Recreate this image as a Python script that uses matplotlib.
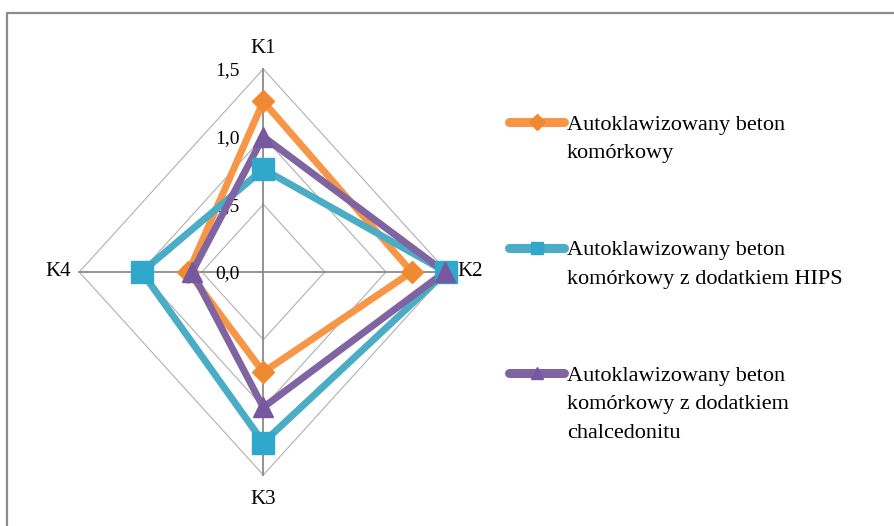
import matplotlib
matplotlib.use('Agg')
import matplotlib.pyplot as plt
from matplotlib.lines import Line2D

plt.rcParams['font.family'] = ['Liberation Serif', 'DejaVu Serif']

# dane wykresu
axis_labels = ['K1', 'K2', 'K3', 'K4']
tick_values = [0.0, 0.5, 1.0, 1.5]
tick_labels = ['0,0', '0,5', '1,0', '1,5']

beton = [1.26, 1.21, 0.74, 0.61]
beton_hips = [0.76, 1.49, 1.26, 0.99]
beton_chalcedonit = [1.00, 1.48, 1.00, 0.58]

series_names = [
    'Autoklawizowany beton\nkomórkowy',
    'Autoklawizowany beton\nkomórkowy z dodatkiem HIPS',
    'Autoklawizowany beton\nkomórkowy z dodatkiem\nchalcedonitu',
]
series_values = [beton, beton_hips, beton_chalcedonit]
colors = ['#F79646', '#4BACC6', '#8064A2']
marker_colors = ['#F08A32', '#2FA8CB', '#7657A0']
markers = ['D', 's', '^']
marker_sizes = [11, 16, 14]

# kierunki osi: K1 gora, K2 prawo, K3 dol, K4 lewo
dirs = [(0, 1), (1, 0), (0, -1), (-1, 0)]


def to_xy(vals):
    xs = [v * d[0] for v, d in zip(vals, dirs)]
    ys = [v * d[1] for v, d in zip(vals, dirs)]
    return xs + xs[:1], ys + ys[:1]


W, H = 894, 526
fig = plt.figure(figsize=(W / 100, H / 100), dpi=100)
fig.patch.set_facecolor('white')

# ramka (widoczna tylko gora i lewa krawedz)
fig.add_artist(Line2D([7 / W, 7 / W, 1.0], [0.0, 1 - 13 / H, 1 - 13 / H],
                      color='#8c8c8c', lw=1.6))

ax = fig.add_axes([79.3 / W, (H - 475) / H, 368 / W, 406 / H])
rmax = tick_values[-1]
ax.set_xlim(-rmax, rmax)
ax.set_ylim(-rmax, rmax)
ax.axis('off')

# siatka
for r in tick_values[1:]:
    gx, gy = to_xy([r] * 4)
    ax.plot(gx, gy, color='#b0b0b0', lw=0.8, zorder=1, clip_on=False)
for dx, dy in dirs:
    ax.plot([0, dx * rmax], [0, dy * rmax], color='#8a8a8a', lw=1.3, zorder=1, clip_on=False)

# etykiety skali
for v, lab in zip(tick_values, tick_labels):
    ax.text(-0.19, v - 0.015, lab, ha='right', va='center', fontsize=14, zorder=2)

# etykiety osi
ax.text(0, rmax + 0.155, axis_labels[0], ha='center', va='center', fontsize=15)
ax.text(rmax + 0.08, 0, axis_labels[1], ha='left', va='center', fontsize=15)
ax.text(0, -rmax - 0.18, axis_labels[2], ha='center', va='center', fontsize=15)
ax.text(-rmax - 0.07, 0, axis_labels[3], ha='right', va='center', fontsize=15)

# serie
for vals, c, mc, m, ms in zip(series_values, colors, marker_colors, markers, marker_sizes):
    xs, ys = to_xy(vals)
    ax.plot(xs, ys, color=c, lw=5, zorder=3, clip_on=False, solid_joinstyle='miter')
    ax.plot(xs[:4], ys[:4], ls='none', marker=m, ms=ms, color=mc,
            markeredgecolor=mc, zorder=4, clip_on=False)

# legenda
x_line0, x_line1, x_text = 509, 564, 567
first_y = 122
for i, (name, c, mc, m) in enumerate(zip(series_names, colors, marker_colors, markers)):
    yc = first_y + i * 125.5
    fig.add_artist(Line2D([x_line0 / W, x_line1 / W], [1 - yc / H, 1 - yc / H],
                          color=c, lw=6.5, solid_capstyle='round'))
    fig.add_artist(Line2D([(x_line0 + x_line1) / 2 / W], [1 - yc / H], marker=m,
                          ms=8, color=mc, markeredgecolor=mc, ls='none'))
    for j, line in enumerate(name.split('\n')):
        fig.text(x_text / W, 1 - (yc + 8 + j * 28.3) / H, line, fontsize=16,
                 ha='left', va='baseline')

fig.savefig('out.png', dpi=100)
